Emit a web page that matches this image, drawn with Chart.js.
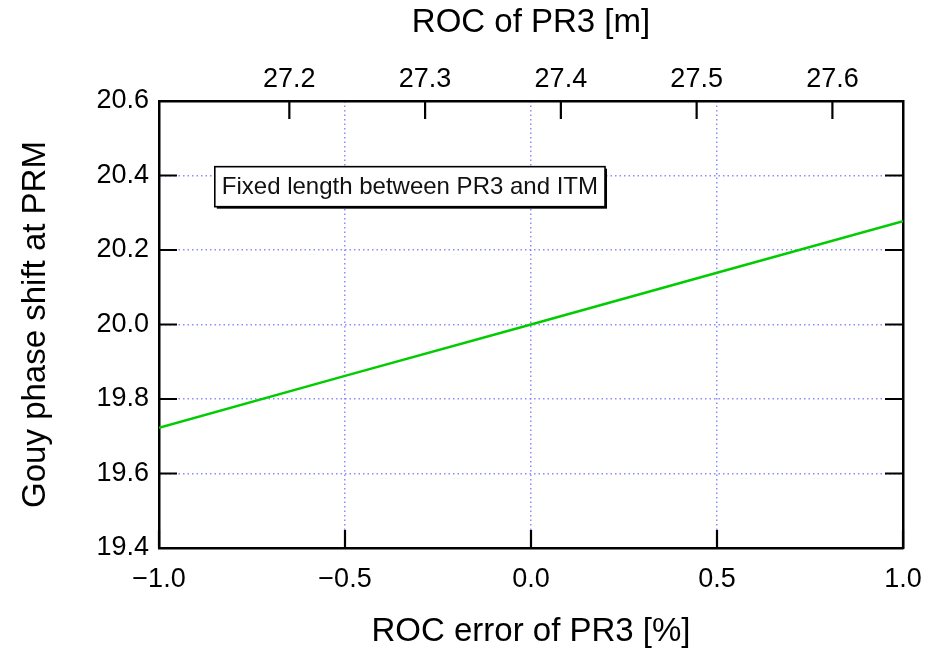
<!DOCTYPE html>
<html>
<head>
<meta charset="utf-8">
<script src="https://cdn.jsdelivr.net/npm/chart.js@4"></script>
<style>
  html, body { margin: 0; padding: 0; background: #fff; }
  #wrap { width: 930px; height: 648px; }
</style>
</head>
<body>
<div id="wrap"><canvas id="gouyChart" width="930" height="648"></canvas></div>
<script>
// --- DATA ---
const rocError = [-1.0, -0.5, 0.0, 0.5, 1.0];          // ROC error of PR3 [%]
const gouyPhase = [19.723, 19.862, 20.0, 20.139, 20.277]; // Gouy phase shift at PRM

const errorTicks = [-1.0, -0.5, 0.0, 0.5, 1.0];
const phaseTicks = [19.4, 19.6, 19.8, 20.0, 20.2, 20.4, 20.6];
const rocTicks = [27.2, 27.3, 27.4, 27.5, 27.6];   // ROC of PR3 [m]
const rocRange = [27.104, 27.652];

const noteText = "Fixed length between PR3 and ITM";

const tickFont = { family: "'Liberation Sans', Arial, sans-serif", size: 27 };
const titleFont = { family: "'Liberation Sans', Arial, sans-serif", size: 33, lineHeight: 1 };
const gridColor = "rgba(120,120,255,0.85)";

function fmt(v) {
  return (v < 0 ? "\u2212" : "") + Math.abs(v).toFixed(1);
}

function setTicks(list) {
  return scale => { scale.ticks = list.map(v => ({ value: v })); };
}

function edgeGrid(list) {
  // no dotted line on the frame itself
  return ctx => {
    const v = ctx.tick ? ctx.tick.value : null;
    if (v === list[0] || v === list[list.length - 1]) return "rgba(0,0,0,0)";
    return gridColor;
  };
}

function fixHeight(h) {
  return s => { s.height = h; s.paddingLeft = 0; s.paddingRight = 0; };
}

// --- INWARD TICKS + NOTE BOX ---
const frameTicks = {
  id: "frameTicks",
  afterDraw(chart) {
    const { ctx, chartArea: a, scales } = chart;
    const len = 18;
    ctx.save();
    ctx.strokeStyle = "#000";
    ctx.lineWidth = 2.2;
    ctx.beginPath();
    errorTicks.forEach(v => {
      const x = scales.x.getPixelForValue(v);
      ctx.moveTo(x, a.bottom); ctx.lineTo(x, a.bottom - len);
    });
    rocTicks.forEach(v => {
      const x = scales.x2.getPixelForValue(v);
      ctx.moveTo(x, a.top); ctx.lineTo(x, a.top + len);
    });
    phaseTicks.forEach(v => {
      const y = scales.y.getPixelForValue(v);
      ctx.moveTo(a.left, y); ctx.lineTo(a.left + len, y);
      ctx.moveTo(a.right, y); ctx.lineTo(a.right - len, y);
    });
    ctx.stroke();

    // note box
    ctx.font = "24px 'Liberation Sans', Arial, sans-serif";
    const w = ctx.measureText(noteText).width;
    const bx = scales.x.getPixelForValue(-0.85);
    const cy = scales.y.getPixelForValue(20.37);
    const bw = w + 14, bh = 40;
    ctx.fillStyle = "#000";
    ctx.fillRect(bx + 2, cy - bh / 2 + 2, bw, bh);
    ctx.fillStyle = "#fff";
    ctx.fillRect(bx, cy - bh / 2, bw, bh);
    ctx.lineWidth = 1.6;
    ctx.strokeRect(bx, cy - bh / 2, bw, bh);
    ctx.fillStyle = "#111";
    ctx.textBaseline = "middle";
    ctx.fillText(noteText, bx + 7, cy + 1);
    ctx.restore();
  }
};

// --- CHART ---
new Chart(document.getElementById("gouyChart"), {
  type: "line",
  data: {
    labels: rocError,
    datasets: [{
      data: rocError.map((x, i) => ({ x: x, y: gouyPhase[i] })),
      borderColor: "#00cc00",
      borderWidth: 2.5,
      pointRadius: 0,
      tension: 0,
      xAxisID: "x",
      yAxisID: "y"
    }]
  },
  plugins: [frameTicks],
  options: {
    responsive: false,
    animation: false,
    layout: { padding: 0 },
    plugins: { legend: { display: false }, tooltip: { enabled: false } },
    scales: {
      x: {
        type: "linear",
        position: "bottom",
        min: -1.0, max: 1.0,
        afterBuildTicks: setTicks(errorTicks),
        afterFit: fixHeight(100),
        ticks: { font: tickFont, color: "#000", padding: 15, maxRotation: 0, callback: v => fmt(v) },
        grid: { color: edgeGrid(errorTicks), lineWidth: 1.5, drawTicks: false },
        border: { display: true, color: "#000", width: 2.5, dash: [1.5, 3] },
        title: { display: true, text: "ROC error of PR3 [%]", font: titleFont, color: "#000", padding: { top: 0, bottom: 0 } }
      },
      x2: {
        type: "linear",
        position: "top",
        min: rocRange[0], max: rocRange[1],
        afterBuildTicks: setTicks(rocTicks),
        afterFit: fixHeight(101),
        ticks: { font: tickFont, color: "#000", padding: 5, maxRotation: 0, callback: v => v.toFixed(1) },
        grid: { drawOnChartArea: false, drawTicks: false },
        border: { display: true, color: "#000", width: 2.5 },
        title: { display: true, text: "ROC of PR3 [m]", font: titleFont, color: "#000", padding: { top: 6, bottom: 0 } }
      },
      y: {
        type: "linear",
        position: "left",
        min: 19.4, max: 20.6,
        afterBuildTicks: setTicks(phaseTicks),
        afterFit: s => { s.width = 159; },
        ticks: { font: tickFont, color: "#000", padding: 10, callback: v => v.toFixed(1) },
        grid: { color: edgeGrid(phaseTicks), lineWidth: 1.5, drawTicks: false },
        border: { display: true, color: "#000", width: 2.5, dash: [1.5, 3] },
        title: { display: true, text: "Gouy phase shift at PRM", font: titleFont, color: "#000", padding: { top: 19, bottom: 0 } }
      },
      y2: {
        type: "linear",
        position: "right",
        min: 19.4, max: 20.6,
        afterFit: s => { s.width = 27; },
        ticks: { display: false },
        grid: { drawOnChartArea: false, drawTicks: false },
        border: { display: true, color: "#000", width: 2.5 }
      }
    }
  }
});
</script>
</body>
</html>
